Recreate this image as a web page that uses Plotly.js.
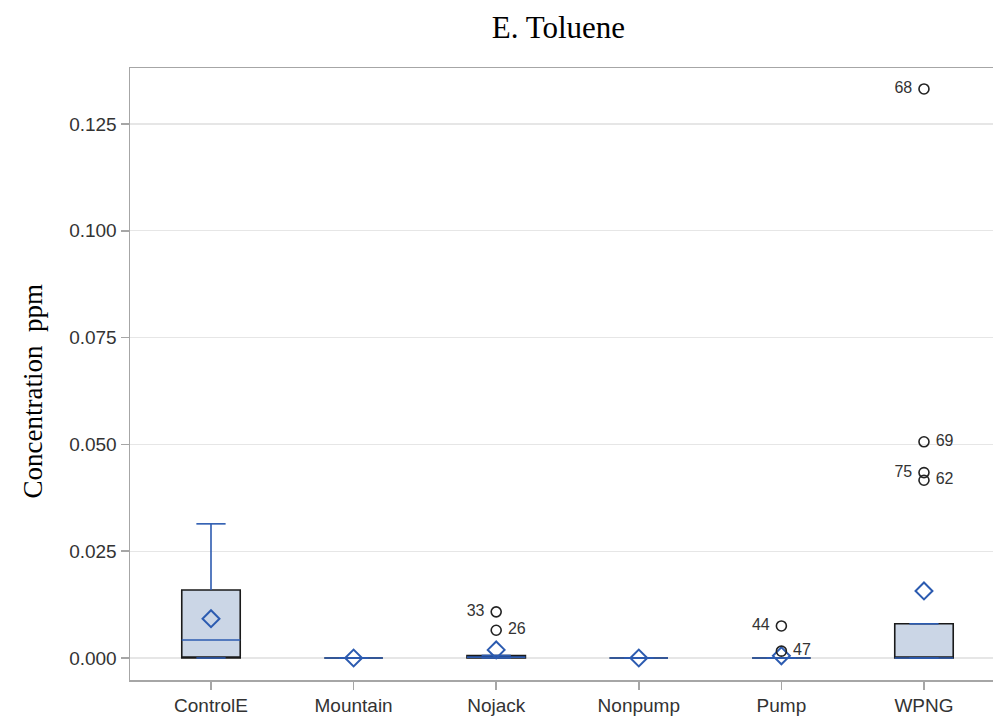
<!DOCTYPE html>
<html>
<head>
<meta charset="utf-8">
<script src="https://cdn.plot.ly/plotly-3.0.1.min.js"></script>
<style>
  html, body { margin: 0; padding: 0; background: #fff; }
  #chart { width: 993px; height: 719px; }
</style>
</head>
<body>
<div id="chart"></div>
<script>
// Toluene concentration (ppm) by site group
const categories = ['ControlE', 'Mountain', 'Nojack', 'Nonpump', 'Pump', 'WPNG'];

// box statistics per group
const q1Values     = [0,      0, 0,      0, 0, 0];
const medianValues = [0.0042, 0, 0.0002, 0, 0, 0];
const q3Values     = [0.0159, 0, 0.0006, 0, 0, 0.0080];
const lowValues    = [0,      0, 0,      0, 0, 0];
const highValues   = [0.0314, 0, 0.0006, 0, 0, 0.0080];
const meanValues   = [0.0092, 0, 0.0019, 0, 0.0005, 0.0157];

// labelled outliers
const outlierGroup = ['Nojack', 'Nojack', 'Pump', 'Pump', 'WPNG', 'WPNG', 'WPNG', 'WPNG'];
const outlierValue = [0.0108, 0.0065, 0.0075, 0.0016, 0.1332, 0.0506, 0.0434, 0.0416];
const outlierLabel = ['33', '26', '44', '47', '68', '69', '75', '62'];
const outlierSide  = ['left', 'right', 'left', 'right', 'left', 'right', 'left', 'right'];

const BLUE = '#2c5bb0';
const FILL = '#cbd6e6';
const BOX_W = 0.41;
const SANS = 'Liberation Sans, Arial, sans-serif';
const SERIF = 'Liberation Serif, Times New Roman, serif';
const idx = categories.map((_, i) => i);

// box bodies: black outline with light fill
const boxBody = {
  type: 'box',
  x: idx,
  q1: q1Values,
  median: q1Values,
  q3: q3Values,
  lowerfence: q1Values,
  upperfence: q3Values,
  width: BOX_W,
  whiskerwidth: 0,
  fillcolor: FILL,
  line: { color: '#1a1a1a', width: 1.6 },
  boxpoints: false,
  hoverinfo: 'skip',
  showlegend: false
};

// whiskers, caps and medians in blue
const wx = [], wy = [];
idx.forEach(i => {
  wx.push(i, i, null); wy.push(q3Values[i], highValues[i], null);
  wx.push(i, i, null); wy.push(q1Values[i], lowValues[i], null);
  wx.push(i - BOX_W / 4, i + BOX_W / 4, null); wy.push(highValues[i], highValues[i], null);
  wx.push(i - BOX_W / 4, i + BOX_W / 4, null); wy.push(lowValues[i], lowValues[i], null);
});
idx.forEach(i => {
  wx.push(i - BOX_W / 2, i + BOX_W / 2, null); wy.push(medianValues[i], medianValues[i], null);
});
const whiskers = {
  type: 'scatter', mode: 'lines', x: wx, y: wy,
  line: { color: BLUE, width: 1.6 },
  connectgaps: false, hoverinfo: 'skip', showlegend: false
};

const means = {
  type: 'scatter', mode: 'markers', x: idx, y: meanValues,
  marker: { symbol: 'diamond-open', size: 13, color: BLUE, line: { color: BLUE, width: 2 } },
  showlegend: false
};

const outliers = {
  type: 'scatter', mode: 'markers+text',
  x: outlierGroup.map(g => categories.indexOf(g)),
  y: outlierValue,
  text: outlierLabel.map((t, k) => outlierSide[k] === 'left' ? t + '\u00a0' : '\u00a0' + t),
  textposition: outlierSide.map(s => 'middle ' + s),
  textfont: { family: SANS, size: 16, color: '#333' },
  marker: { symbol: 'circle-open', size: 10, color: '#222', line: { color: '#222', width: 1.6 } },
  cliponaxis: false,
  showlegend: false
};

const layout = {
  width: 993, height: 719,
  margin: { l: 130, r: 0, t: 68, b: 39 },
  paper_bgcolor: '#fff', plot_bgcolor: '#fff',
  title: {
    text: 'E. Toluene',
    font: { family: SERIF, size: 31, color: '#000' },
    x: 0.4965, xref: 'paper', xanchor: 'center',
    y: 0.962, yref: 'container', yanchor: 'middle'
  },
  xaxis: {
    range: [-0.568, 5.484],
    tickmode: 'array', tickvals: idx, ticktext: categories,
    showgrid: false, zeroline: false,
    showline: true, mirror: true, linecolor: '#a6a6a6', linewidth: 1.5,
    ticks: 'outside', ticklen: 8, tickcolor: '#a6a6a6', tickwidth: 1.5,
    tickfont: { family: SANS, size: 19, color: '#333' }
  },
  yaxis: {
    range: [-0.00515, 0.1381],
    tickvals: [0, 0.025, 0.05, 0.075, 0.1, 0.125],
    tickformat: '.3f',
    showgrid: true, gridcolor: '#e6e6e6', gridwidth: 1.2,
    zeroline: false,
    showline: true, linecolor: '#a6a6a6', linewidth: 1.5,
    ticks: 'outside', ticklen: 8, tickcolor: '#a6a6a6', tickwidth: 1.5,
    tickfont: { family: SANS, size: 19, color: '#333' }
  },
  annotations: [{
    text: 'Concentration\u00a0 ppm',
    font: { family: SERIF, size: 27, color: '#000' },
    textangle: -90,
    xref: 'paper', yref: 'paper',
    x: -0.112, y: 0.472,
    xanchor: 'center', yanchor: 'middle',
    showarrow: false
  }]
};

Plotly.newPlot('chart', [boxBody, whiskers, means, outliers], layout, { displayModeBar: false, staticPlot: true });
</script>
</body>
</html>
